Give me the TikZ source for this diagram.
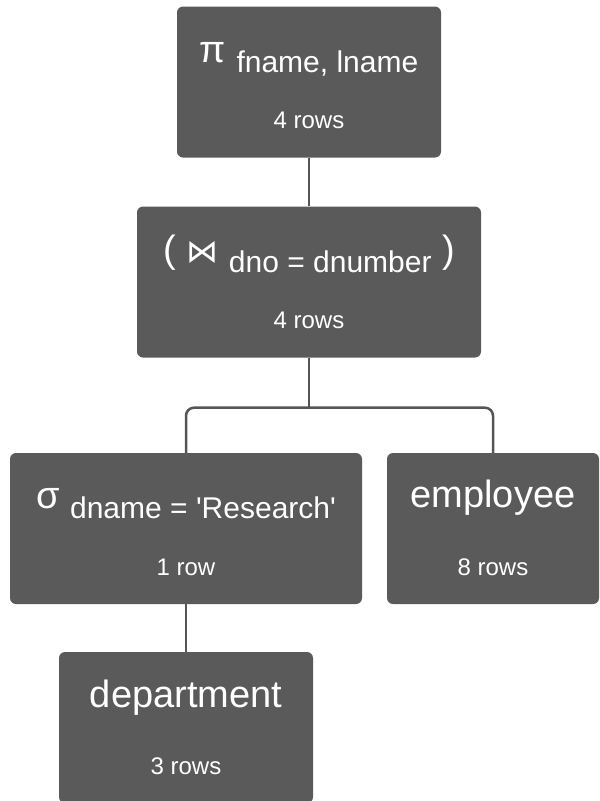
\documentclass[tikz,border=0pt]{standalone}
\usepackage{fontspec}
\setmainfont{Liberation Sans}
\newfontfamily\symfont{DejaVu Sans}
\definecolor{boxfill}{HTML}{5A5A5A}
\definecolor{wirecol}{HTML}{555555}

% text sizes used inside the operator boxes
\newcommand\optxt{\fontsize{38}{38}\selectfont}
\newcommand\subtxt{\fontsize{30}{30}\selectfont}
\newcommand\rowtxt{\fontsize{24}{24}\selectfont}
\newcommand\lowered[1]{\raisebox{-10pt}{\subtxt #1}}

\tikzset{
  opbox/.style={fill=boxfill, draw=none, rounded corners=6pt,
    minimum width=#1, minimum height=151pt, inner sep=0pt},
  optitle/.style={text=white, anchor=base, inner sep=0pt},
  oprows/.style={text=white, anchor=base, inner sep=0pt, font=\rowtxt},
  wire/.style={draw=wirecol, line width=2.5pt, rounded corners=8pt}
}

\begin{document}
\begin{tikzpicture}[x=1pt, y=-1pt]
  \useasboundingbox (0,0) rectangle (600,801);

  % operator boxes
  \node[opbox=264pt] (proj) at (309,82)    {};
  \node[opbox=344pt] (join) at (309,282)   {};
  \node[opbox=352pt] (sel)  at (186,528.5) {};
  \node[opbox=212pt] (emp)  at (493,528.5) {};
  \node[opbox=254pt] (dept) at (186,727.5) {};

  % tree edges
  \draw[wire] (proj.south) -- (join.north);
  \coordinate (fork) at ([yshift=-50pt]join.south);
  \draw[wire] (join.south) -- (fork);
  \draw[wire] (sel.north) |- (fork) -| (emp.north);
  \draw[wire] (sel.south) -- (dept.north);

  % projection
  \node[optitle] (projT) at (309,62) {\optxt π \lowered{fname, lname}};
  \node[oprows]  (projR) at (309,128) {4 rows};

  % join
  \node[optitle] (joinT) at (309,262)
    {\optxt ( {\symfont\fontsize{32}{32}\selectfont ⋈} \lowered{dno = dnumber} )};
  \node[oprows]  (joinR) at (309,328) {4 rows};

  % selection
  \node[optitle] (selT) at (186,508)
    {\optxt σ \lowered{dname = \textquotesingle Research\textquotesingle}};
  \node[oprows]  (selR) at (186,575) {1 row};

  % base relations
  \node[optitle] (empT)  at (493,507) {\optxt employee};
  \node[oprows]  (empR)  at (493,575) {8 rows};
  \node[optitle] (deptT) at (186,707) {\optxt department};
  \node[oprows]  (deptR) at (186,774) {3 rows};
\end{tikzpicture}
\end{document}
